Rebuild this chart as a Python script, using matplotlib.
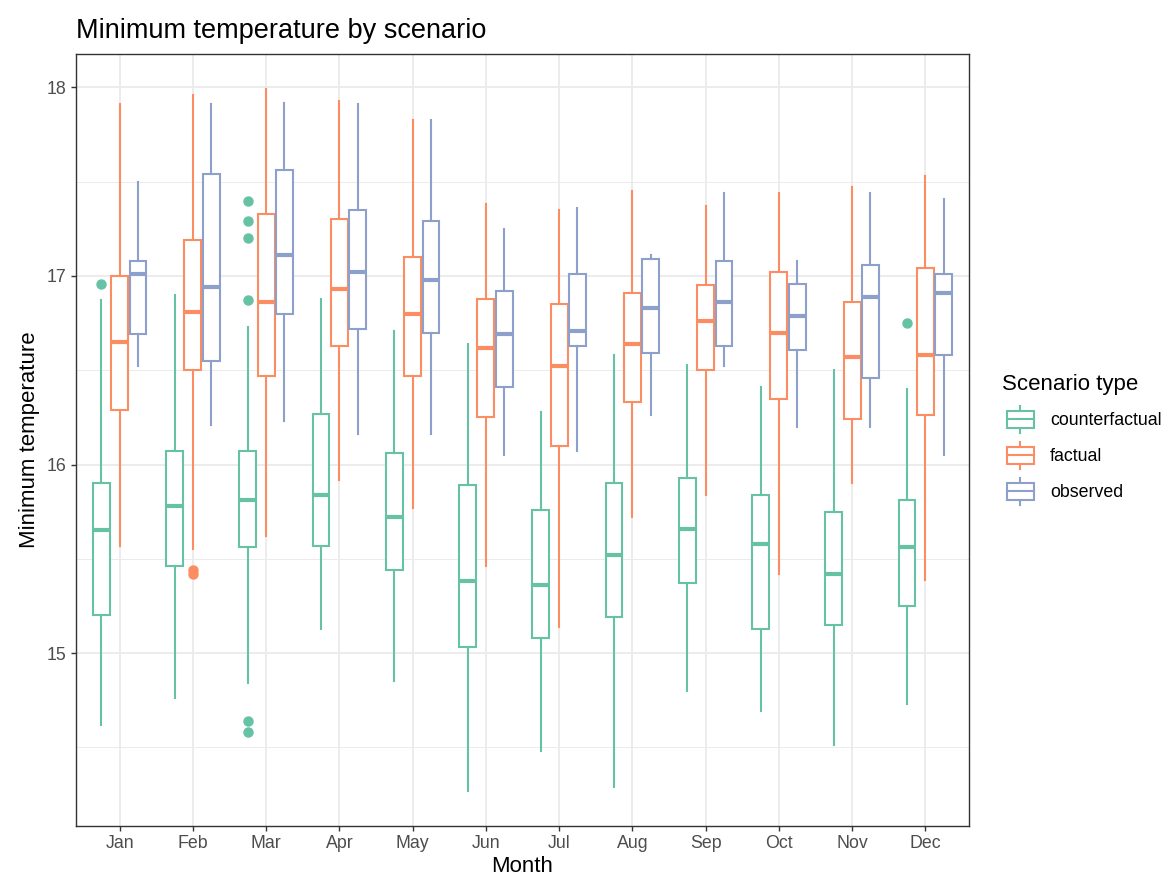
import numpy as np
import matplotlib.pyplot as plt
from matplotlib.patches import Patch, Rectangle
from matplotlib.lines import Line2D
from matplotlib.legend_handler import HandlerBase

plt.rcParams["font.family"] = ["Liberation Sans", "DejaVu Sans"]

MONTHS = ["Jan", "Feb", "Mar", "Apr", "May", "Jun", "Jul", "Aug", "Sep", "Oct", "Nov", "Dec"]
SCENARIOS = ["counterfactual", "factual", "observed"]
COLORS = ["#66C2A5", "#FC8D62", "#8DA0CB"]

# box stats, one value per month
cf_lo  = [14.62, 14.76, 14.84, 15.13, 14.85, 14.27, 14.48, 14.29, 14.80, 14.69, 14.51, 14.73]
cf_q1  = [15.20, 15.46, 15.56, 15.57, 15.44, 15.03, 15.08, 15.19, 15.37, 15.13, 15.15, 15.25]
cf_med = [15.65, 15.78, 15.81, 15.84, 15.72, 15.38, 15.36, 15.52, 15.66, 15.58, 15.42, 15.56]
cf_q3  = [15.90, 16.07, 16.07, 16.27, 16.06, 15.89, 15.76, 15.90, 15.93, 15.84, 15.75, 15.81]
cf_hi  = [16.87, 16.90, 16.73, 16.88, 16.71, 16.64, 16.28, 16.58, 16.53, 16.41, 16.50, 16.40]
cf_out = {"Jan": [16.96], "Mar": [17.40, 17.29, 17.20, 16.87, 14.64, 14.58], "Dec": [16.75]}

fa_lo  = [15.57, 15.55, 15.62, 15.92, 15.77, 15.46, 15.14, 15.72, 15.84, 15.42, 15.90, 15.39]
fa_q1  = [16.29, 16.50, 16.47, 16.63, 16.47, 16.25, 16.10, 16.33, 16.50, 16.35, 16.24, 16.26]
fa_med = [16.65, 16.81, 16.86, 16.93, 16.80, 16.62, 16.52, 16.64, 16.76, 16.70, 16.57, 16.58]
fa_q3  = [17.00, 17.19, 17.33, 17.30, 17.10, 16.88, 16.85, 16.91, 16.95, 17.02, 16.86, 17.04]
fa_hi  = [17.91, 17.96, 17.99, 17.93, 17.83, 17.38, 17.35, 17.45, 17.37, 17.44, 17.47, 17.53]
fa_out = {"Feb": [15.44, 15.42]}

ob_lo  = [16.52, 16.21, 16.23, 16.16, 16.16, 16.05, 16.07, 16.26, 16.52, 16.20, 16.20, 16.05]
ob_q1  = [16.69, 16.55, 16.80, 16.72, 16.70, 16.41, 16.63, 16.59, 16.63, 16.61, 16.46, 16.58]
ob_med = [17.01, 16.94, 17.11, 17.02, 16.98, 16.69, 16.71, 16.83, 16.86, 16.79, 16.89, 16.91]
ob_q3  = [17.08, 17.54, 17.56, 17.35, 17.29, 16.92, 17.01, 17.09, 17.08, 16.96, 17.06, 17.01]
ob_hi  = [17.50, 17.91, 17.92, 17.91, 17.83, 17.25, 17.36, 17.11, 17.44, 17.08, 17.44, 17.41]
ob_out = {}

SERIES = [
    (cf_lo, cf_q1, cf_med, cf_q3, cf_hi, cf_out),
    (fa_lo, fa_q1, fa_med, fa_q3, fa_hi, fa_out),
    (ob_lo, ob_q1, ob_med, ob_q3, ob_hi, ob_out),
]

DODGE = 0.25
BOX_W = 0.23
LW = 1.5
SMALL = 12.8
BIG = 16


def make_stats(lo, q1, med, q3, hi, out):
    stats = []
    for i, m in enumerate(MONTHS):
        stats.append({"whislo": lo[i], "q1": q1[i], "med": med[i], "q3": q3[i],
                      "whishi": hi[i], "fliers": out.get(m, [])})
    return stats


class BoxKey(HandlerBase):
    # ggplot-like boxplot key: box 0.25-0.75, whiskers out to 0.1 / 0.9
    def create_artists(self, legend, orig_handle, xdescent, ydescent, width, height, fontsize, trans):
        c = orig_handle.get_edgecolor()
        x0, y0 = -xdescent, -ydescent
        xm = x0 + width / 2
        box = Rectangle((x0 + 0.125 * width, y0 + 0.25 * height), 0.75 * width, 0.5 * height,
                        facecolor="white", edgecolor=c, lw=LW, transform=trans)
        med = Line2D([x0 + 0.125 * width, x0 + 0.875 * width], [y0 + 0.5 * height] * 2,
                     color=c, lw=LW, transform=trans)
        w1 = Line2D([xm, xm], [y0 + 0.1 * height, y0 + 0.25 * height], color=c, lw=LW, transform=trans)
        w2 = Line2D([xm, xm], [y0 + 0.75 * height, y0 + 0.9 * height], color=c, lw=LW, transform=trans)
        return [w1, w2, box, med]


fig = plt.figure(figsize=(11.66, 8.86), dpi=100)
fig.patch.set_facecolor("white")
ax = fig.add_axes([75.7 / 1166, 1 - 825.7 / 886, (969.3 - 75.7) / 1166, (825.7 - 54.3) / 886])

x = np.arange(1, len(MONTHS) + 1)
for k, (lo, q1, med, q3, hi, out) in enumerate(SERIES):
    c = COLORS[k]
    ax.bxp(make_stats(lo, q1, med, q3, hi, out), positions=x + (k - 1) * DODGE, widths=BOX_W,
           showcaps=False, patch_artist=True, manage_ticks=False,
           boxprops=dict(facecolor="white", edgecolor=c, lw=LW),
           whiskerprops=dict(color=c, lw=LW),
           medianprops=dict(color=c, lw=3.0, solid_capstyle="butt"),
           flierprops=dict(marker="o", markerfacecolor=c, markeredgecolor=c, markersize=6.5),
           zorder=3)

ax.set_xlim(0.4, len(MONTHS) + 0.6)
ax.set_ylim(14.084, 18.176)
ax.set_xticks(x)
ax.set_xticklabels(MONTHS)
ax.set_yticks([15, 16, 17, 18])
ax.set_yticks([14.5, 15.5, 16.5, 17.5], minor=True)

ax.grid(True, which="major", color="#EBEBEB", lw=1.3, zorder=0)
ax.grid(True, which="minor", axis="y", color="#EBEBEB", lw=0.7, zorder=0)
ax.set_axisbelow(True)
for s in ax.spines.values():
    s.set_color("#333333")
    s.set_linewidth(1.0)
ax.tick_params(which="major", length=3.8, width=1.0, color="#333333",
               labelcolor="#4D4D4D", labelsize=SMALL, pad=3)
ax.tick_params(which="minor", length=0)

ax.set_xlabel("Month", fontsize=BIG, labelpad=3)
ax.set_ylabel("Minimum temperature", fontsize=BIG, labelpad=5)
ax.set_title("Minimum temperature by scenario", loc="left", fontsize=19.5, pad=12)

handles = [Patch(facecolor="white", edgecolor=c, label=s) for s, c in zip(SCENARIOS, COLORS)]
leg = fig.legend(handles=handles, labels=SCENARIOS, title="Scenario type",
                 handler_map={Patch: BoxKey()}, loc="center left",
                 bbox_to_anchor=(1002 / 1166, 1 - 441 / 886), frameon=False,
                 fontsize=SMALL, title_fontsize=BIG, alignment="left",
                 handlelength=2.08, handleheight=2.57, labelspacing=0.11, handletextpad=0.62,
                 borderpad=0, borderaxespad=0)
leg._legend_box.sep = 5.7  # a bit more room under the legend title

fig.savefig("out.png", dpi=100, facecolor="white")
